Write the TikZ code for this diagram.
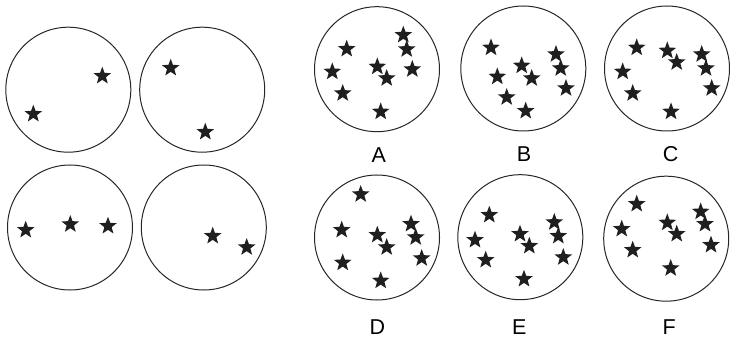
\documentclass[tikz,border=0pt]{standalone}
\usepackage{fontspec}
\setmainfont{Liberation Sans}
\usetikzlibrary{shapes.geometric}
\begin{document}
\begin{tikzpicture}[x=1pt,y=-1pt,
  ring/.style={draw=black!85,line width=1pt,circle,minimum size=125pt,inner sep=0pt},
  sm/.style={star,star points=5,star point ratio=2.4,fill=black!88,draw=none,minimum size=18.5pt,inner sep=0pt},
  lab/.style={font=\fontsize{21.5}{25}\selectfont,inner sep=0pt}]
\useasboundingbox (0,0) rectangle (730,339);
% left circles
\node[ring] (c1) at (68.3,89.7) {};
\node[ring] (c2) at (202.2,89.7) {};
\node[ring] (c3) at (70,227.5) {};
\node[ring] (c4) at (203.8,227.5) {};
\node[sm] (s11) at (102.3,76) {};
\node[sm] (s12) at (33.3,114) {};
\node[sm] (s21) at (170.7,68) {};
\node[sm] (s22) at (205.3,132) {};
\node[sm] (s31) at (25.7,230) {};
\node[sm] (s32) at (70.3,224.3) {};
\node[sm] (s33) at (108,226) {};
\node[sm] (s41) at (212.7,236) {};
\node[sm] (s42) at (246.7,247.3) {};
% A
\node[ring] (cA) at (377,69.2) {};
\foreach \x/\y [count=\i] in {346.7/49,403.3/35,406.7/49.3,332.3/71.7,377.3/66.7,386.7/78.3,412.3/69.3,342.7/93.3,380.7/111.7}
  \node[sm] (sA\i) at (\x,\y) {};
\node[lab] (lA) at (378.7,155) {A};
% B
\node[ring] (cB) at (523.3,68.5) {};
\foreach \x/\y [count=\i] in {491/47.7,556/54.3,560.7/68.3,521.7/65.7,531.7/78.3,497.3/76.7,566/88.3,506.7/97.3,525.7/111}
  \node[sm] (sB\i) at (\x,\y) {};
\node[lab] (lB) at (524,154) {B};
% C
\node[ring] (cC) at (667,68.5) {};
\foreach \x/\y [count=\i] in {636.7/47.7,667.3/50.7,676.7/62.3,701.7/54.3,706/68.3,622.7/71.7,711.7/88.3,632.7/93.3,671/111.7}
  \node[sm] (sC\i) at (\x,\y) {};
\node[lab] (lC) at (670.7,154) {C};
% D
\node[ring] (cD) at (377,237.5) {};
\foreach \x/\y [count=\i] in {360.7/194.3,341.7/230,377.3/235,386.7/247.3,411/224,415.7/237.3,421.7/258.3,342.7/262.7,380.7/280.7}
  \node[sm] (sD\i) at (\x,\y) {};
\node[lab] (lD) at (377.3,326.7) {D};
% E
\node[ring] (cE) at (520.3,237.2) {};
\foreach \x/\y [count=\i] in {489.3/215,475/240,520/234,529.3/246,554.3/222.3,558.3/236,563.3/257.3,485.7/260,524/279}
  \node[sm] (sE\i) at (\x,\y) {};
\node[lab] (lE) at (519.3,326.7) {E};
% F
\node[ring] (cF) at (666.2,238.7) {};
\foreach \x/\y [count=\i] in {636.7/204,621.7/229,667.3/222.7,676.7/234,700.7/211.7,705/224,711/245,632.7/250,670.7/268.3}
  \node[sm] (sF\i) at (\x,\y) {};
\node[lab] (lF) at (669.3,326.7) {F};
\end{tikzpicture}
\end{document}
